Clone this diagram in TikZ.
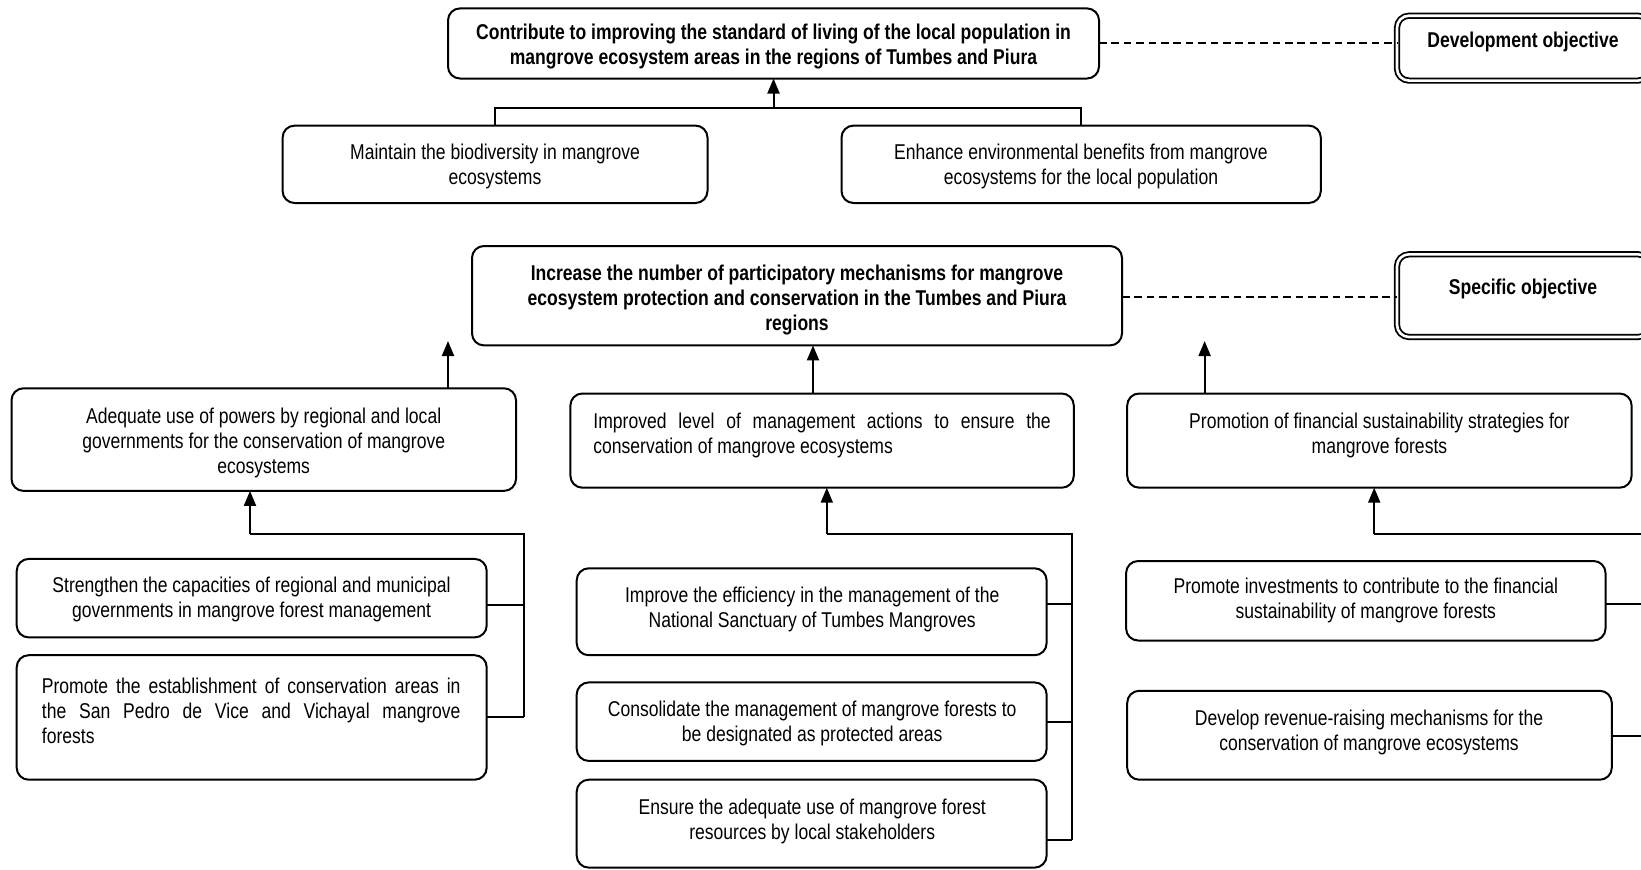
\documentclass[tikz,border=0pt]{standalone}
\usepackage{fontspec}
\setmainfont{Liberation Sans}[FakeStretch=0.82]
\usetikzlibrary{fit,arrows.meta}
\newcommand{\mainsz}{\fontsize{10.7}{12.5}\selectfont}
\tikzset{
  box/.style={draw, line width=1pt, rounded corners=6pt, inner sep=0pt, outer sep=0pt},
  dbox/.style={draw, line width=0.9pt, double, double distance=1.3pt, rounded corners=6pt, inner sep=0pt, outer sep=0pt},
  txt/.style={align=center, font=\mainsz, inner sep=0pt, yshift=-1.2pt},
  btxt/.style={align=center, font=\mainsz\bfseries, inner sep=0pt, yshift=-1.2pt},
  link/.style={line width=1pt},
  arr/.style={line width=1pt, -{Triangle[width=6pt,length=7.5pt]}},
  dashlink/.style={line width=1pt, dash pattern=on 3.8pt off 2.4pt},
}
\begin{document}
\begin{tikzpicture}[x=0.5pt,y=-0.5pt]
\useasboundingbox (0,0) rectangle (1641,869);
\clip (0,0) rectangle (1641,869);
% ---------- development objective level
\node[box, fit={(448,8.4) (1099,78.5)}] (goal) {};
\node[btxt] (goalT) at (773.5,44) {Contribute to improving the standard of living of the local population in\\mangrove ecosystem areas in the regions of Tumbes and Piura};
\node[dbox, fit={(1397,15.7) (1650,80.6)}] (devL) {};
\node[btxt] (devLT) at (1523,39.8) {Development objective};
\draw[dashlink] (goal.east) -- (goal.east -| devL.west);

\node[box, fit={(282.6,125.6) (707.5,203)}] (bio) {};
\node[txt] (bioT) at (495,164.3) {Maintain the biodiversity in mangrove\\ecosystems};
\node[box, fit={(841.5,125.6) (1320.8,203)}] (env) {};
\node[txt] (envT) at (1081,164.3) {Enhance environmental benefits from mangrove\\ecosystems for the local population};

\coordinate (topbus) at (773.5,107.8);
\draw[link] (bio.north) |- (topbus) -| (env.north);
\draw[arr] (topbus) -- (goal.south);

% ---------- specific objective level
\node[box, fit={(472,246) (1122,345.4)}] (spec) {};
\node[btxt] (specT) at (797,297.8) {Increase the number of participatory mechanisms for mangrove\\ecosystem protection and conservation in the Tumbes and Piura\\regions};
\node[dbox, fit={(1397,254.3) (1650,337)}] (specL) {};
\node[btxt] (specLT) at (1523,286.8) {Specific objective};
\draw[dashlink] (spec.east |- 0,297.2) -- (specL.west |- 0,297.2);

% ---------- results
\node[box, fit={(11.5,388.3) (516,490.9)}] (resA) {};
\node[txt] (resAT) at (263.7,440.6) {Adequate use of powers by regional and local\\governments for the conservation of mangrove\\ecosystems};
\node[box, fit={(570.4,393.5) (1073.8,487.7)}] (resB) {};
\node[txt, align=flush left, text width=228.7pt] (resBT) at (822.1,432.8) {\makebox[228.7pt][s]{Improved level of management actions to ensure the}\\conservation of mangrove ecosystems};
\node[box, fit={(1127.2,393.5) (1631.6,487.7)}] (resC) {};
\node[txt] (resCT) at (1379.4,432.8) {Promotion of financial sustainability strategies for\\mangrove forests};

\coordinate (tipA) at (448,341);
\coordinate (tipC) at (1204.6,341);
\draw[arr] (resA.north -| tipA) -- (tipA);
\draw[arr] (resB.north -| 813,0) -- (spec.south -| 813,0);
\draw[arr] (resC.north -| tipC) -- (tipC);

% ---------- left activities
\node[box, fit={(16.7,558.9) (486.7,637.4)}] (actA1) {};
\node[txt] (actA1T) at (251.5,597) {Strengthen the capacities of regional and municipal\\governments in mangrove forest management};
\node[box, fit={(16.7,655.2) (486.7,779.7)}] (actA2) {};
\node[txt, align=flush left, text width=209.3pt] (actA2T) at (251.2,708) {\makebox[209.3pt][s]{Promote the establishment of conservation areas in}\\\makebox[209.3pt][s]{the San Pedro de Vice and Vichayal mangrove}\\forests};
\coordinate (busA) at (524.3,533.8);
\draw[arr] (busA -| 250,0) -- (resA.south -| 250,0);
\draw[link] (busA -| 250,0) -- (busA) -- (busA |- 0,717);
\draw[link] (actA1.east |- 0,605) -- (busA |- 0,605);
\draw[link] (actA2.east |- 0,717) -- (busA |- 0,717);

% ---------- middle activities
\node[box, fit={(576.7,568.3) (1046.6,655.2)}] (actB1) {};
\node[txt] (actB1T) at (812.2,607) {Improve the efficiency in the management of the\\National Sanctuary of Tumbes Mangroves};
\node[box, fit={(576.7,682.4) (1046.6,760.9)}] (actB2) {};
\node[txt] (actB2T) at (812.2,721) {Consolidate the management of mangrove forests to\\be designated as protected areas};
\node[box, fit={(576.7,779.7) (1046.6,867.6)}] (actB3) {};
\node[txt] (actB3T) at (812.2,819) {Ensure the adequate use of mangrove forest\\resources by local stakeholders};
\coordinate (busB) at (1071.7,533.8);
\draw[arr] (busB -| 826.8,0) -- (resB.south -| 826.8,0);
\draw[link] (busB -| 826.8,0) -- (busB) -- (busB |- 0,840.4);
\draw[link] (actB1.east |- 0,603.9) -- (busB |- 0,603.9);
\draw[link] (actB2.east |- 0,722.2) -- (busB |- 0,722.2);
\draw[link] (actB3.east |- 0,840.4) -- (busB |- 0,840.4);

% ---------- right activities
\node[box, fit={(1126.1,561) (1605.5,640.5)}] (actC1) {};
\node[txt] (actC1T) at (1365.8,598) {Promote investments to contribute to the financial\\sustainability of mangrove forests};
\node[box, fit={(1127.2,690.8) (1611.8,779.7)}] (actC2) {};
\node[txt] (actC2T) at (1369,730) {Develop revenue-raising mechanisms for the\\conservation of mangrove ecosystems};
\coordinate (busC) at (1655,533.8);
\draw[arr] (busC -| 1374.2,0) -- (resC.south -| 1374.2,0);
\draw[link] (busC -| 1374.2,0) -- (busC) -- (busC |- 0,735.8);
\draw[link] (actC1.east |- 0,603.9) -- (busC |- 0,603.9);
\draw[link] (actC2.east |- 0,735.8) -- (busC |- 0,735.8);
\end{tikzpicture}
\end{document}
